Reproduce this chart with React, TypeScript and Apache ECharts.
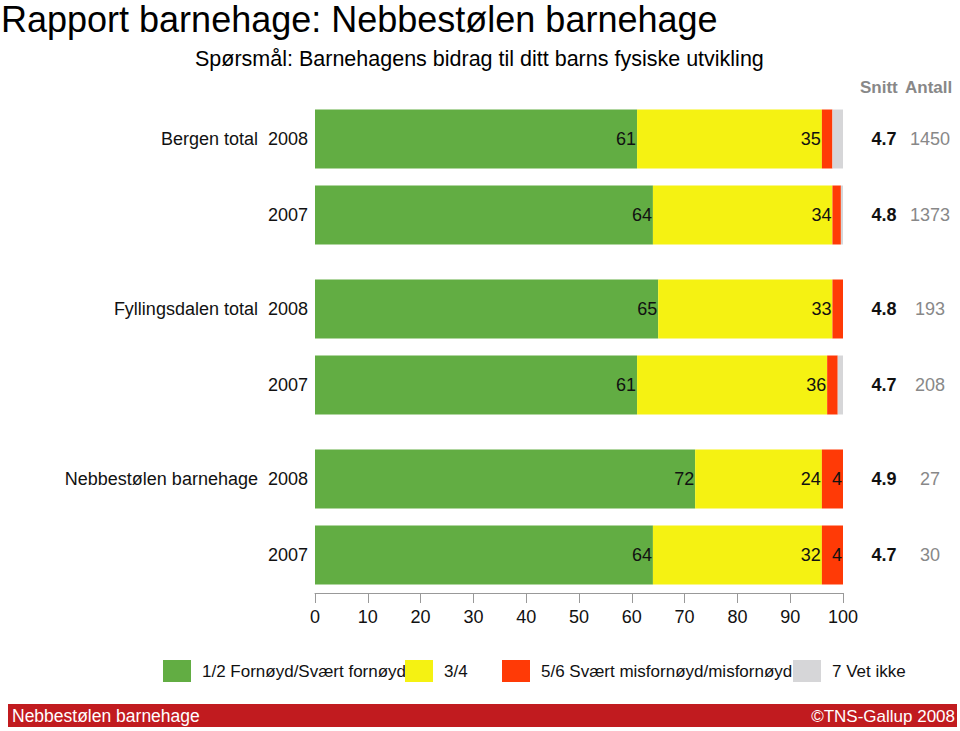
import React, { useEffect, useRef } from "react";
import * as echarts from "echarts";

const groups = ["Bergen total", "Fyllingsdalen total", "Nebbestølen barnehage"];
const years = ["2008", "2007"];
const rowLabels = [
  "Bergen total 2008",
  "Bergen total 2007",
  "Fyllingsdalen total 2008",
  "Fyllingsdalen total 2007",
  "Nebbestølen barnehage 2008",
  "Nebbestølen barnehage 2007",
];
const seriesNames = [
  "1/2 Fornøyd/Svært fornøyd",
  "3/4",
  "5/6 Svært misfornøyd/misfornøyd",
  "7 Vet ikke",
];
const satisfied = [61, 64, 65, 61, 72, 64];
const neutral = [35, 34, 33, 36, 24, 32];
const dissatisfied = [2, 1.6, 2, 2, 4, 4];
const dontKnow = [2, 0.4, 0, 1, 0, 0];
const snitt = ["4.7", "4.8", "4.8", "4.7", "4.9", "4.7"];
const antall = ["1450", "1373", "193", "208", "27", "30"];
const xMin = 0;
const xMax = 100;
const xInterval = 10;

const colors = ["#62ad43", "#f5f212", "#ff3a06", "#d6d6d8"];
const FONT = "'Liberation Sans', Arial, Helvetica, sans-serif";

export default function App() {
  const ref = useRef<HTMLDivElement>(null);
  useEffect(() => {
    if (!ref.current) return;
    const chart = echarts.init(ref.current, null, { renderer: "svg" });
    const values = [satisfied, neutral, dissatisfied, dontKnow];
    const gridTops = [101, 271, 441];
    const grids = gridTops.map((t) => ({ left: 315, right: 117, top: t, height: 152 }));
    const xAxes = grids.map((_, g) => ({
      gridIndex: g,
      type: "value",
      min: xMin,
      max: xMax,
      interval: xInterval,
      show: g === 2,
      splitLine: { show: false },
      axisLine: { show: true, lineStyle: { color: "#999", width: 1 } },
      axisTick: { show: true, length: 10, lineStyle: { color: "#999" } },
      axisLabel: { fontSize: 18, color: "#111", margin: 15, fontFamily: FONT },
    }));
    const yAxes: any[] = [];
    groups.forEach((grp, g) => {
      const cats = rowLabels.slice(g * 2, g * 2 + 2);
      yAxes.push({
        gridIndex: g,
        type: "category",
        data: cats,
        inverse: true,
        axisLine: { show: false },
        axisTick: { show: false },
        axisLabel: {
          margin: 7,
          fontSize: 18,
          color: "#111",
          fontFamily: FONT,
          formatter: (_v: string, i: number) => (i === 0 ? grp + "  " + years[0] : years[i]),
        },
      });
      yAxes.push({
        gridIndex: g,
        type: "category",
        position: "right",
        data: cats,
        inverse: true,
        axisLine: { show: false },
        axisTick: { show: false },
        axisLabel: {
          margin: 20,
          fontFamily: FONT,
          formatter: (_v: string, i: number) =>
            `{s|${snitt[g * 2 + i]}}{a|${antall[g * 2 + i]}}`,
          rich: {
            s: { width: 42, align: "center", fontWeight: "bold", fontSize: 18, color: "#111", fontFamily: FONT },
            a: { width: 50, align: "center", fontSize: 18, color: "#888", fontFamily: FONT },
          },
        },
      });
    });
    const series: any[] = [];
    groups.forEach((_, g) => {
      values.forEach((arr, s) => {
        series.push({
          type: "bar",
          name: seriesNames[s],
          stack: "g" + g,
          xAxisIndex: g,
          yAxisIndex: g * 2,
          barWidth: 59,
          data: arr.slice(g * 2, g * 2 + 2),
          itemStyle: { color: colors[s] },
          label: {
            show: true,
            position: "insideRight",
            distance: 1,
            fontSize: 18,
            color: "#111",
            fontFamily: FONT,
            formatter: (p: any) => (p.value >= 3 ? String(Math.round(p.value)) : ""),
          },
        });
      });
    });
    const legendLefts = [163, 405, 502, 793];
    const legends = seriesNames.map((n, i) => ({
      data: [n],
      left: legendLefts[i],
      top: 660,
      padding: 0,
      itemWidth: 28,
      itemHeight: 22,
      icon: "rect",
      selectedMode: false,
      textStyle: { fontSize: 17, color: "#111", fontFamily: FONT, padding: [0, 0, 0, 6] },
    }));
    chart.setOption({
      animation: false,
      backgroundColor: "#fff",
      title: [
        {
          text: "Rapport barnehage: Nebbestølen barnehage",
          left: 1,
          top: 1,
          padding: 0,
          textStyle: { fontSize: 36, fontWeight: "normal", color: "#000", fontFamily: FONT },
        },
        {
          text: "Spørsmål: Barnehagens bidrag til ditt barns fysiske utvikling",
          left: 195,
          top: 48,
          padding: 0,
          textStyle: { fontSize: 21.5, fontWeight: "normal", color: "#000", fontFamily: FONT },
        },
      ],
      grid: grids,
      xAxis: xAxes,
      yAxis: yAxes,
      legend: legends,
      series,
      graphic: [
        {
          type: "text",
          left: 860,
          top: 79,
          style: { text: "Snitt", fontSize: 17, fontWeight: "bold", fill: "#888", fontFamily: FONT },
        },
        {
          type: "text",
          left: 905,
          top: 79,
          style: { text: "Antall", fontSize: 17, fontWeight: "bold", fill: "#888", fontFamily: FONT },
        },
        {
          type: "rect",
          shape: { x: 8, y: 704, width: 949, height: 23 },
          style: { fill: "#c11b1f" },
        },
        {
          type: "text",
          x: 12,
          y: 716,
          style: {
            text: "Nebbestølen barnehage",
            fontSize: 17.5,
            fill: "#fff",
            fontFamily: FONT,
            verticalAlign: "middle",
          },
        },
        {
          type: "text",
          x: 955,
          y: 716,
          style: {
            text: "©TNS-Gallup 2008",
            fontSize: 17,
            fill: "#fff",
            fontFamily: FONT,
            align: "right",
            verticalAlign: "middle",
          },
        },
      ],
    });
    return () => chart.dispose();
  }, []);
  return (
    <div
      ref={ref}
      style={{ position: "fixed", left: 0, top: 0, width: 960, height: 731, background: "#fff" }}
    />
  );
}
